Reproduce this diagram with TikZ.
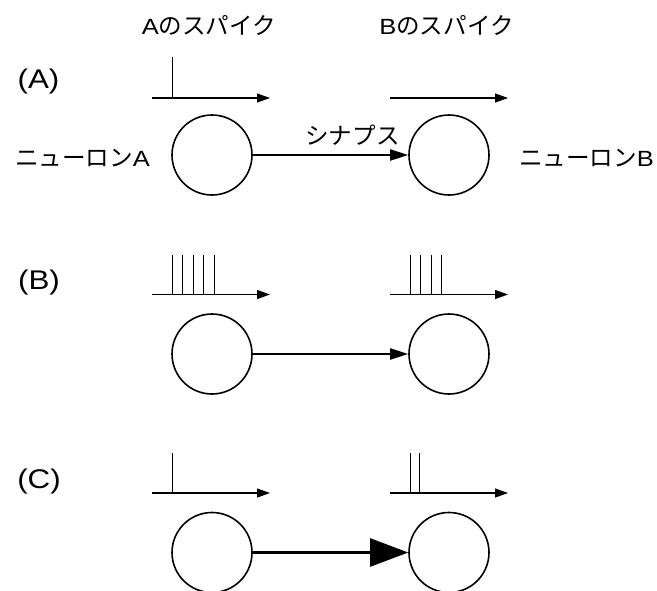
\documentclass[tikz,border=0pt]{standalone}
\usepackage{fontspec}
\setmainfont[FakeStretch=1.16]{Liberation Sans}
\newfontfamily\jp[Scale=1.07]{Noto Sans CJK JP}
\usetikzlibrary{arrows.meta}

\tikzset{
  neuron/.style={draw, circle, line width=1.6pt, minimum size=80pt, inner sep=0pt},
  timeaxis/.style={line width=1.2pt, -{Triangle[length=13pt,width=9pt]}},
  spike/.style={line width=1pt},
  synapse/.style={line width=2pt, -{Triangle[length=18pt,width=11pt]}},
  strongsyn/.style={line width=2.4pt, -{Triangle[length=38pt,width=28pt]}},
  txt/.style={font=\fontsize{22}{26}\selectfont, inner sep=0pt},
  panel/.style={font=\fontsize{27}{30}\selectfont, inner sep=0pt},
}

\begin{document}
\begin{tikzpicture}[x=1pt, y=-1pt]
\useasboundingbox (0,0) rectangle (657,590);

% column headings
\node[txt] (ha) at (209,25) {A{\jp のスパイク}};
\node[txt] (hb) at (446.5,25) {B{\jp のスパイク}};

% side labels of the two neurons
\node[txt] (la) at (82.5,158) {{\jp ニューロン}A};
\node[txt] (lb) at (586.5,158) {{\jp ニューロン}B};

% ---- panel (A): one input spike, no output ----
\node[panel] (pA) at (38.5,82) {(A)};
\coordinate (aa0) at (152,98);  \coordinate (aa1) at (270,98);
\coordinate (ab0) at (390,98);  \coordinate (ab1) at (508,98);
\draw[timeaxis] (aa0) -- (aa1);
\draw[timeaxis] (ab0) -- (ab1);
\draw[spike] (172,98) -- (172,57);
\node[neuron] (nA1) at (212,155) {};
\node[neuron] (nA2) at (449,155) {};
\draw[synapse] (nA1) -- (nA2);
\node[txt] (syn) at (352.5,135.5) {\jp シナプス};

% ---- panel (B): burst of five input spikes, four output spikes ----
\node[panel] (pB) at (39,283) {(B)};
\coordinate (ba0) at (152,294.5); \coordinate (ba1) at (270,294.5);
\coordinate (bb0) at (390,294.5); \coordinate (bb1) at (508,294.5);
\draw[timeaxis] (ba0) -- (ba1);
\draw[timeaxis] (bb0) -- (bb1);
\foreach \x in {172,182.5,193,203.5,214}
  \draw[spike] (\x,294.5) -- (\x,255);
\foreach \x in {410,420.5,431,441.5}
  \draw[spike] (\x,294.5) -- (\x,255);
\node[neuron] (nB1) at (212,354) {};
\node[neuron] (nB2) at (449,354) {};
\draw[synapse] (nB1) -- (nB2);

% ---- panel (C): one input spike through a strong synapse ----
\node[panel] (pC) at (39,482) {(C)};
\coordinate (ca0) at (152,493); \coordinate (ca1) at (270,493);
\coordinate (cb0) at (390,493); \coordinate (cb1) at (508,493);
\draw[timeaxis] (ca0) -- (ca1);
\draw[timeaxis] (cb0) -- (cb1);
\draw[spike] (172,493) -- (172,453);
\foreach \x in {410,419}
  \draw[spike] (\x,493) -- (\x,453);
\node[neuron] (nC1) at (212,552.5) {};
\node[neuron] (nC2) at (449,552.5) {};
\draw[strongsyn] (nC1) -- (nC2);
\end{tikzpicture}
\end{document}
